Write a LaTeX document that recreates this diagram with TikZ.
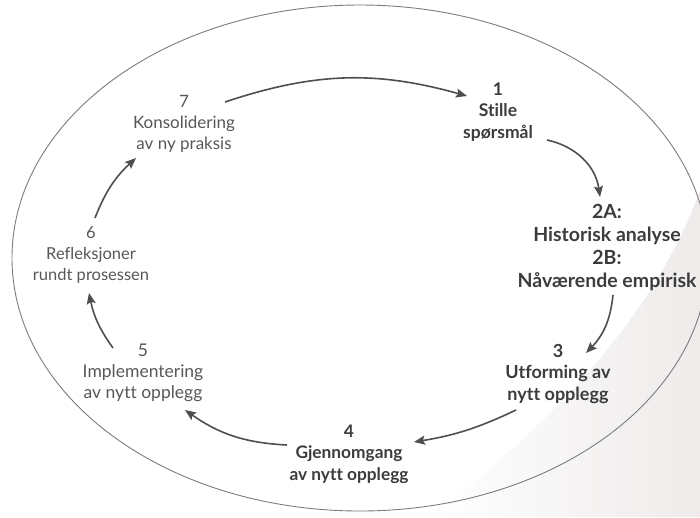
\documentclass[tikz,border=0pt]{standalone}
\usepackage{fontspec}
\setmainfont[Ligatures=NoCommon]{Lato}
\usetikzlibrary{arrows.meta,calc,fadings}
\definecolor{ringgray}{HTML}{7C7C7C}
\definecolor{arrowgray}{HTML}{4E4E4E}
\definecolor{textlight}{HTML}{575757}
\definecolor{textdark}{HTML}{3C3C3C}
\definecolor{papertint}{HTML}{EEEBEA}
\begin{document}
\begin{tikzpicture}[x=1pt,y=-1pt,
  stage/.style={align=center, inner sep=0pt, text=textlight,
    font=\fontsize{#1}{21}\selectfont},
  stagebold/.style={align=center, inner sep=0pt, text=textdark,
    font=\fontsize{#1}{21.5}\selectfont\bfseries},
  flow/.style={draw=arrowgray, line width=1.6pt,
    -{Stealth[length=11pt,width=9pt,inset=2pt]}},
]
\useasboundingbox (0,0) rectangle (700,517);

% faint tint of the page in the lower right
\fill[papertint, path fading=west] (430,517) .. controls (530,440) and (650,330) .. (700,190)
  -- (700,517) -- cycle;

% outer ring
\draw[ringgray, line width=0.9pt] (360,258) ellipse [x radius=348pt, y radius=253pt];

% stages of the cycle
\node[stagebold=17.5] (n1) at (498,112) {1\\Stille\\spørsmål};
\node[stagebold=19.5, font=\fontsize{19.5}{23}\selectfont\bfseries] (n2) at (607,247)
  {2A:\\Historisk analyse\\2B:\\Nåværende empirisk};
\node[stagebold=18] (n3) at (558,374) {3\\Utforming av\\nytt opplegg};
\node[stagebold=17.3] (n4) at (349,454) {4\\Gjennomgang\\av nytt opplegg};
\node[stage=17.5] (n5) at (143,373) {5\\Implementering\\av nytt opplegg};
\node[stage=16.5] (n6) at (91,255) {6\\Refleksjoner\\rundt prosessen};
\node[stage=17] (n7) at (184,124) {7\\Konsolidering\\av ny praksis};

% arrows between the stages
\draw[flow] ($(n7)+(41,-22)$) to[bend left=17] ($(n1)+(-31,-16)$);
\draw[flow] ($(n1)+(49,28)$) to[bend left=35] ($(n2)+(-7,-50)$);
\draw[flow] ($(n2)+(6,48)$) to[bend left=19] ($(n3)+(28,-21)$);
\draw[flow] ($(n3)+(-42,36)$) to[bend left=8] ($(n4)+(65,-12)$);
\draw[flow] ($(n4)+(-62,-9)$) to[bend left=16] ($(n5)+(42,37)$);
\draw[flow] ($(n5)+(-30,-25)$) to[bend left=12] ($(n6)+(-2,38)$);
\draw[flow] ($(n6)+(4,-37)$) to[bend left=13] ($(n7)+(-48,34)$);
\end{tikzpicture}
\end{document}
